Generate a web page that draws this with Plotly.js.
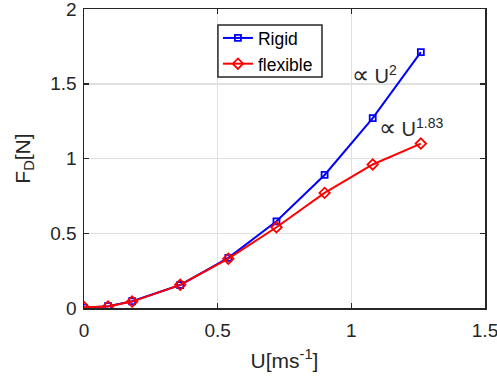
<!DOCTYPE html>
<html>
<head>
<meta charset="utf-8">
<script src="https://cdn.plot.ly/plotly-3.0.1.min.js"></script>
<style>html,body{margin:0;padding:0;background:#fff;}#chart{width:497px;height:384px;}</style>
</head>
<body>
<div id="chart"></div>
<script>
const U = [0, 0.09, 0.18, 0.36, 0.54, 0.72, 0.9, 1.08, 1.26];
const rigid = [0.002, 0.012, 0.045, 0.154, 0.335, 0.58, 0.89, 1.27, 1.712];
const flexible = [0.005, 0.01, 0.043, 0.155, 0.33, 0.54, 0.77, 0.96, 1.10];
const seriesNames = ["Rigid", "flexible"];
const xTicks = [0, 0.5, 1, 1.5];
const yTicks = [0, 0.5, 1, 1.5, 2];
const annoText = ["<span style='font-size:24px'>\u221D</span> U<sup>2</sup>",
                  "<span style='font-size:24px'>\u221D</span> U<sup>1.83</sup>"];
const annoX = [0.995, 1.095];
const annoY = [1.565, 1.21];

const fam = "Liberation Sans, Arial, sans-serif";
const tickFont = {family: fam, size: 19, color: "#262626"};
const titleFont = {family: fam, size: 21, color: "#262626"};
const legendFont = {family: fam, size: 17.5, color: "#000"};

const traces = [
  {x: U, y: rigid, name: seriesNames[0], mode: "lines+markers",
   line: {color: "#0000ff", width: 2},
   marker: {symbol: "square-open", size: 6, color: "#0000ff", line: {width: 1.8}}},
  {x: U, y: flexible, name: seriesNames[1], mode: "lines+markers",
   line: {color: "#ff0000", width: 2},
   marker: {symbol: "diamond-open", size: 8, color: "#ff0000", line: {width: 1.8}}}
];

const axisCommon = {
  showline: true, linecolor: "#262626", linewidth: 1.5, mirror: "ticks",
  ticks: "inside", ticklen: 5, tickwidth: 1.5, tickcolor: "#262626",
  showgrid: true, gridcolor: "#e0e0e0", gridwidth: 1.5, zeroline: false,
  tickfont: tickFont, ticklabeloverflow: "allow"
};

const layout = {
  width: 497, height: 384,
  margin: {l: 84, r: 12, t: 9, b: 76},
  paper_bgcolor: "#fff", plot_bgcolor: "#fff",
  font: tickFont,
  showlegend: true,
  legend: {x: 0.334, y: 0.963, xanchor: "left", yanchor: "top",
           borderwidth: 0, bgcolor: "rgba(0,0,0,0)",
           font: legendFont, tracegroupgap: 0},
  shapes: [{type: "rect", xref: "paper", yref: "paper",
            x0: 0.334, x1: 0.5935, y0: 0.7726, y1: 0.9465,
            line: {color: "#262626", width: 1.5}, fillcolor: "rgba(255,255,255,1)", layer: "above"}],
  xaxis: Object.assign({}, axisCommon, {
    range: [0, 1.5], tickvals: xTicks, ticktext: xTicks.map(String),
    ticklabelstandoff: 5,
    title: {text: "U[ms<sup>-1</sup>]", font: titleFont, standoff: 13}
  }),
  yaxis: Object.assign({}, axisCommon, {
    range: [0, 2], tickvals: yTicks, ticktext: yTicks.map(String),
    ticklabelstandoff: 2,
    title: {text: "F<sub>D</sub>[N]", font: titleFont, standoff: 14}
  }),
  annotations: annoText.map((t, i) => ({
    x: annoX[i], y: annoY[i], xref: "x", yref: "y", text: t,
    showarrow: false, xanchor: "left", yanchor: "middle",
    font: {family: fam, size: 20, color: "#262626"}
  }))
};

Plotly.newPlot("chart", traces, layout, {displayModeBar: false, staticPlot: true});
</script>
</body>
</html>
